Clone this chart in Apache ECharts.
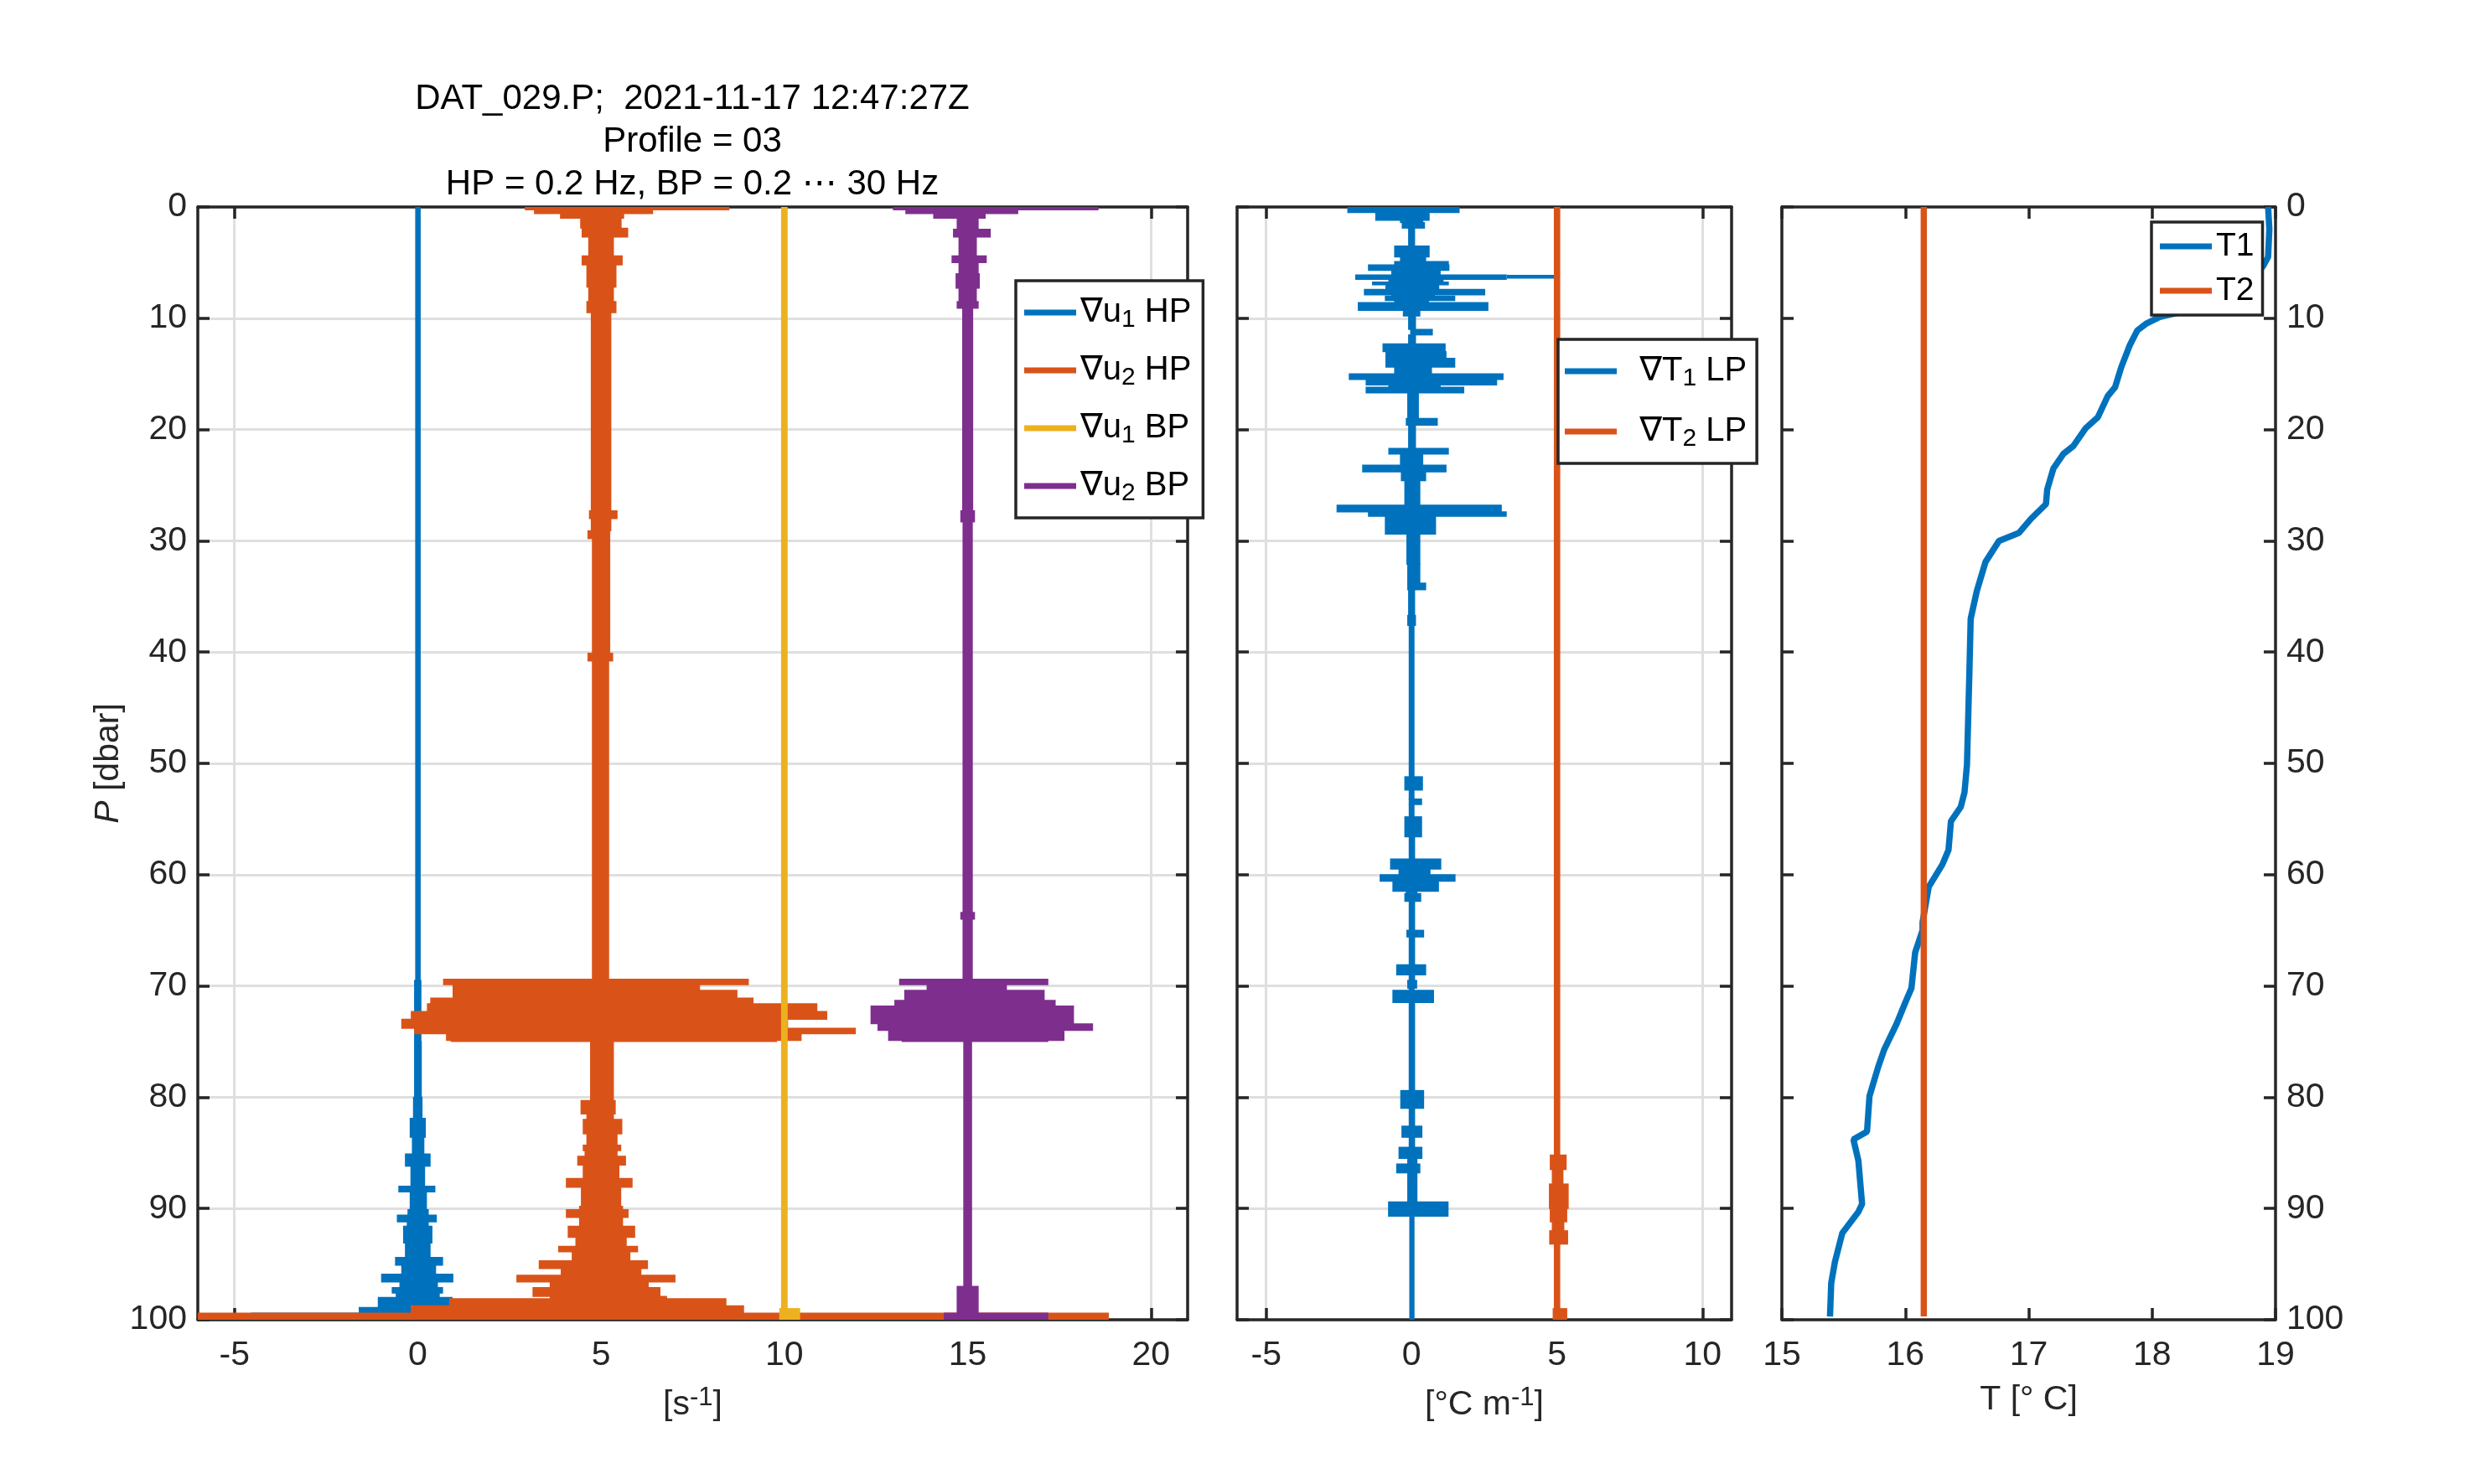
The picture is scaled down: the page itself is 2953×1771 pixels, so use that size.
<!DOCTYPE html>
<html>
<head>
<meta charset="utf-8">
<script src="https://cdn.jsdelivr.net/npm/echarts@6/dist/echarts.min.js"></script>
<style>
html, body { margin: 0; padding: 0; background: #fff; }
#container { width: 2953px; height: 1771px; }
</style>
</head>
<body>
<div id="container"></div>
<script>
var dom = document.getElementById("container");
var myChart = echarts.init(dom);

var FONT = 'Liberation Sans, Arial, DejaVu Sans, sans-serif';
var INK = '#262626';

// matlab default colours
var cBlue = '#0072BD', cOrange = '#D95319', cYellow = '#EDB120', cPurple = '#7E2F8E';

// tick labels
var shearTicks = [-5, 0, 5, 10, 15, 20];
var gradTicks = [-5, 0, 5, 10];
var tempTicks = [15, 16, 17, 18, 19];

var titleLines = ['DAT_029.P;  2021-11-17 12:47:27Z', 'Profile = 03', 'HP = 0.2 Hz, BP = 0.2 \u22EF 30 Hz'];

// each row: [P top, P bottom, x left, x right] 
var du1HP = [
    [0, 69.5, -0.07, 0.08], [69.5, 75, -0.1, 0.1], [75, 80, -0.1, 0.11], [80, 81.9, -0.13, 0.13],
    [81.9, 83.6, -0.22, 0.22], [83.6, 85.1, -0.16, 0.18], [85.1, 86.2, -0.35, 0.35], [86.2, 88, -0.2, 0.2],
    [88, 88.5, -0.53, 0.48], [88.5, 90.1, -0.22, 0.25], [90.1, 90.6, -0.28, 0.3], [90.6, 91.2, -0.57, 0.52],
    [91.2, 91.6, -0.3, 0.3], [91.6, 93.1, -0.4, 0.4], [93.1, 94.4, -0.35, 0.35], [94.4, 95.1, -0.62, 0.69],
    [95.1, 95.9, -0.45, 0.5], [95.9, 96.6, -1.0, 0.97], [96.6, 97.1, -0.5, 0.55], [97.1, 97.6, -0.71, 0.69],
    [97.6, 98.0, -0.6, 0.6], [98.0, 98.9, -1.09, 0.95], [98.9, 99.4, -1.61, 0.95], [99.4, 99.55, -4.55, -1.6]
];
var du2HP = [
    [0, 0.25, 2.92, 8.5], [0.25, 0.6, 3.17, 6.42], [0.6, 1.0, 3.88, 5.63], [1.0, 1.9, 4.43, 5.56],
    [1.9, 2.7, 4.47, 5.74], [2.7, 4.4, 4.65, 5.35], [4.4, 5.2, 4.47, 5.59], [5.2, 7.2, 4.6, 5.42],
    [7.2, 8.5, 4.65, 5.35], [8.5, 9.5, 4.6, 5.42], [9.5, 27.3, 4.72, 5.28], [27.3, 28, 4.67, 5.45],
    [28, 29.1, 4.72, 5.28], [29.1, 29.8, 4.63, 5.25], [29.8, 40.1, 4.75, 5.25], [40.1, 40.8, 4.63, 5.33],
    [40.8, 69.4, 4.75, 5.22],
    [69.4, 69.9, 0.69, 9.03], [69.9, 70.4, 0.95, 7.7], [70.4, 71.1, 0.95, 8.72], [71.1, 71.6, 0.34, 9.16],
    [71.6, 72.3, 0.25, 10.9], [72.3, 73.0, -0.19, 11.17], [73.0, 73.8, -0.45, 10.1], [73.8, 74.3, -0.1, 11.95],
    [74.3, 74.9, 0.77, 10.47], [74.9, 75.0, 0.9, 9.8],
    [75.0, 80.3, 4.7, 5.35], [80.3, 81.5, 4.44, 5.4], [81.5, 82.0, 4.6, 5.35], [82.0, 83.3, 4.5, 5.58],
    [83.3, 84.3, 4.6, 5.45], [84.3, 84.8, 4.5, 5.55], [84.8, 85.3, 4.55, 5.45], [85.3, 86.1, 4.35, 5.68],
    [86.1, 87.3, 4.5, 5.5], [87.3, 88.1, 4.04, 5.86], [88.1, 89.8, 4.45, 5.55], [89.8, 90.1, 4.4, 5.6],
    [90.1, 90.8, 4.04, 5.75], [90.8, 91.6, 4.4, 5.6], [91.6, 92.6, 4.09, 5.93], [92.6, 93.4, 4.3, 5.7],
    [93.4, 93.9, 3.83, 6.01], [93.9, 94.7, 4.2, 5.8], [94.7, 95.4, 3.3, 6.28], [95.4, 96.0, 3.9, 6.1],
    [96.0, 96.6, 2.69, 7.03], [96.6, 97.1, 3.6, 6.3], [97.1, 97.9, 3.13, 6.62], [97.9, 98.1, 3.6, 6.8],
    [98.1, 98.75, 0.86, 8.42], [98.75, 99.4, -0.19, 8.9], [99.4, 100, -6.5, 18.85]
];
var du1BP = [
    [0, 99.0, 9.91, 10.09], [99.0, 100, 9.86, 10.43]
];
var du2BP = [
    [0, 0.25, 12.96, 18.57], [0.25, 0.6, 13.3, 16.38], [0.6, 1.0, 14.06, 15.49], [1.0, 2.0, 14.7, 15.3],
    [2.0, 2.7, 14.6, 15.63], [2.7, 4.4, 14.75, 15.25], [4.4, 5.0, 14.56, 15.52], [5.0, 6.0, 14.75, 15.3],
    [6.0, 7.3, 14.67, 15.33], [7.3, 8.5, 14.75, 15.25], [8.5, 9.1, 14.7, 15.3], [9.1, 27.3, 14.85, 15.15],
    [27.3, 28.3, 14.8, 15.2], [28.3, 63.4, 14.86, 15.14], [63.4, 64.0, 14.8, 15.2], [64.0, 69.4, 14.86, 15.14],
    [69.4, 69.9, 13.13, 17.2], [69.9, 70.4, 13.88, 16.07], [70.4, 71.3, 13.27, 17.1], [71.3, 71.8, 13.0, 17.4],
    [71.8, 73.4, 12.35, 17.9], [73.4, 74.0, 12.54, 18.42], [74.0, 74.9, 12.83, 17.64], [74.9, 75.0, 13.2, 17.2],
    [75.0, 97.0, 14.88, 15.12], [97.0, 99.4, 14.7, 15.3], [99.4, 100, 14.35, 17.2]
];
var dT1LP = [
    [0, 0.5, -2.21, 1.65], [0.5, 1.2, -1.25, 0.62], [1.2, 1.4, -0.4, 0.4], [1.4, 1.9, -0.34, 0.46],
    [1.9, 3.5, -0.12, 0.12], [3.5, 4.5, -0.6, 0.62], [4.5, 4.9, -0.4, 0.5], [4.9, 5.2, -0.6, 1.28],
    [5.2, 5.7, -1.5, 1.3], [5.7, 6.1, -0.7, 1.0], [6.1, 6.5, -1.94, 3.27], [6.15, 6.4, 3.27, 4.95],
    [6.5, 6.75, -0.8, 1.1], [6.75, 7.0, -1.36, 1.28], [7.0, 7.4, -0.9, 0.95], [7.4, 7.9, -1.64, 2.53],
    [7.9, 8.0, -0.7, 0.8], [8.0, 8.4, -0.92, 1.5], [8.4, 8.6, -0.6, 0.6], [8.6, 9.3, -1.85, 2.64],
    [9.3, 9.8, -0.3, 0.3], [9.8, 11.0, -0.12, 0.15], [11.0, 11.5, -0.05, 0.73], [11.5, 12.3, -0.12, 0.15],
    [12.3, 13.0, -1.0, 1.17], [13.0, 13.6, -0.9, 1.2], [13.6, 14.4, -0.9, 1.5], [14.4, 15.0, -0.6, 0.7],
    [15.0, 15.5, -2.16, 3.16], [15.5, 16.0, -1.58, 2.94], [16.0, 16.2, -0.8, 1.0], [16.2, 16.7, -1.58, 1.81],
    [16.7, 19.0, -0.15, 0.25], [19.0, 19.6, -0.2, 0.9], [19.6, 21.7, -0.12, 0.15], [21.7, 22.2, -0.8, 1.28],
    [22.2, 23.2, -0.4, 0.4], [23.2, 23.8, -1.7, 1.2], [23.8, 24.6, -0.37, 0.5], [24.6, 26.8, -0.25, 0.3],
    [26.8, 27.4, -2.58, 3.1], [27.4, 27.8, -1.5, 3.27], [27.8, 29.4, -0.92, 0.84], [29.4, 32.1, -0.18, 0.3],
    [32.1, 33.8, -0.15, 0.3], [33.8, 34.4, -0.15, 0.5], [34.4, 36.7, -0.12, 0.12], [36.7, 37.6, -0.15, 0.15],
    [37.6, 51.2, -0.1, 0.1],
    [51.2, 52.4, -0.25, 0.39], [52.4, 53.2, -0.1, 0.1], [53.2, 53.7, -0.1, 0.36], [53.7, 54.8, -0.1, 0.1],
    [54.8, 56.6, -0.25, 0.36], [56.6, 58.6, -0.1, 0.12], [58.6, 59.5, -0.74, 1.02], [59.5, 60.0, -0.45, 0.65],
    [60.0, 60.6, -1.1, 1.51], [60.6, 61.5, -0.66, 0.94], [61.5, 61.7, -0.2, 0.2], [61.7, 62.4, -0.25, 0.33],
    [62.4, 65.0, -0.1, 0.12], [65.0, 65.6, -0.18, 0.43], [65.6, 68.1, -0.1, 0.12], [68.1, 69.0, -0.53, 0.5],
    [69.0, 69.5, -0.1, 0.12], [69.5, 70.2, -0.15, 0.19], [70.2, 70.4, -0.1, 0.1], [70.4, 71.5, -0.66, 0.77],
    [71.5, 79.4, -0.1, 0.12], [79.4, 81.0, -0.39, 0.43], [81.0, 82.6, -0.1, 0.12], [82.6, 83.6, -0.35, 0.37],
    [83.6, 84.5, -0.1, 0.12], [84.5, 85.5, -0.45, 0.37], [85.5, 86.0, -0.15, 0.2], [86.0, 86.8, -0.53, 0.3],
    [86.8, 89.4, -0.15, 0.2], [89.4, 90.7, -0.81, 1.27], [90.7, 100, -0.08, 0.1]
];
var dT2LP = [
    [0, 85.2, 4.89, 5.11], [85.2, 86.5, 4.75, 5.33], [86.5, 87.8, 4.82, 5.22], [87.8, 90.0, 4.72, 5.4],
    [90.0, 91.2, 4.75, 5.35], [91.2, 92.0, 4.82, 5.25], [92.0, 93.2, 4.73, 5.38], [93.2, 99.0, 4.89, 5.11],
    [99.0, 100, 4.85, 5.35]
];

// temperature profiles: [T, P]
var t1Profile = [
    [18.94, 0], [18.95, 2], [18.94, 4.5], [18.9, 5.3], [18.8, 6.5], [18.55, 8], [18.25, 9.4], [18.06, 9.9],
    [17.95, 10.5], [17.88, 11.1], [17.82, 12.4], [17.75, 14.4], [17.7, 16.2], [17.64, 17.0], [17.56, 18.9],
    [17.46, 19.9], [17.36, 21.5], [17.28, 22.2], [17.2, 23.5], [17.15, 25.4], [17.14, 26.7], [17.02, 28.0],
    [16.92, 29.3], [16.76, 30.0], [16.65, 31.9], [16.58, 34.5], [16.53, 37.0], [16.52, 41.6], [16.5, 50.1],
    [16.48, 52.6], [16.45, 53.9], [16.37, 55.2], [16.35, 57.8], [16.3, 59.1], [16.19, 61.1], [16.14, 64.3],
    [16.14, 65.0], [16.08, 67.0], [16.05, 70.2], [16.0, 71.5], [15.93, 73.4], [15.83, 75.7], [15.78, 77.3],
    [15.71, 79.9], [15.69, 83.1], [15.58, 83.8], [15.62, 85.7], [15.65, 89.6], [15.62, 90.3], [15.49, 92.2],
    [15.43, 94.8], [15.4, 96.7], [15.39, 99.7]
];
var t2Profile = [
    [16.15, 0], [16.15, 50], [16.15, 99.7]
];

function renderSlab(params, api) {
    var a = api.coord([api.value(2), api.value(0)]);
    var b = api.coord([api.value(3), api.value(1)]);
    var cs = params.coordSys;
    var x0 = Math.max(Math.min(a[0], b[0]), cs.x);
    var x1 = Math.min(Math.max(a[0], b[0]), cs.x + cs.width);
    var y0 = Math.max(Math.min(a[1], b[1]) - 0.6, cs.y);
    var y1 = Math.min(Math.max(a[1], b[1]) + 0.6, cs.y + cs.height);
    if (x1 <= x0 || y1 <= y0) {
        return;
    }
    return {
        type: 'rect',
        shape: { x: x0, y: y0, width: x1 - x0, height: y1 - y0 },
        style: { fill: api.visual('color') }
    };
}

function slabSeries(name, data, color, axis) {
    return {
        name: name,
        type: 'custom',
        xAxisIndex: axis,
        yAxisIndex: axis,
        renderItem: renderSlab,
        encode: { x: [2, 3], y: [0, 1] },
        itemStyle: { color: color },
        data: data
    };
}

var labelStyle = { fontSize: 41, color: INK, fontFamily: FONT };
// rich styles for super/subscripts
var richBase = { fontSize: 41, color: INK, fontFamily: FONT, lineHeight: 48, verticalAlign: 'middle' };
var richSup = { fontSize: 31, color: INK, fontFamily: FONT, lineHeight: 10, verticalAlign: 'top' };
var nameStyle = { fontSize: 41, color: INK, fontFamily: FONT, rich: { n: richBase, sup: richSup } };

function xAxes(grid, min, max, ticks, name, gap, split) {
    return [{
        type: 'value', gridIndex: grid, position: 'bottom', min: min, max: max,
        axisLine: { show: true, onZero: false, lineStyle: { color: INK, width: 3.5 } },
        axisTick: { show: true, inside: true, length: 14, customValues: ticks, lineStyle: { color: INK, width: 3.5 } },
        axisLabel: Object.assign({ show: true, customValues: ticks, margin: 22 }, labelStyle),
        splitLine: { show: split, lineStyle: { color: '#dfdfdf', width: 3 } },
        name: name, nameLocation: 'middle', nameGap: gap, nameTextStyle: nameStyle
    }, {
        type: 'value', gridIndex: grid, position: 'top', min: min, max: max,
        axisLine: { show: true, onZero: false, lineStyle: { color: INK, width: 3.5 } },
        axisTick: { show: true, inside: true, length: 14, customValues: ticks, lineStyle: { color: INK, width: 3.5 } },
        axisLabel: { show: false },
        splitLine: { show: false }
    }];
}

function yAxis(grid, pos, labels, split) {
    return {
        type: 'value', gridIndex: grid, position: pos, inverse: true, min: 0, max: 100, interval: 10,
        axisLine: { show: true, onZero: false, lineStyle: { color: INK, width: 3.5 } },
        axisTick: { show: true, inside: true, length: 14, lineStyle: { color: INK, width: 3.5 } },
        axisLabel: Object.assign({ show: labels, margin: 13 }, labelStyle),
        splitLine: { show: split, lineStyle: { color: '#dfdfdf', width: 3 } }
    };
}

var yLeft = yAxis(0, 'left', true, true);
yLeft.name = '{i|P} [dbar]';
yLeft.nameLocation = 'middle';
yLeft.nameGap = 86;
yLeft.nameTextStyle = { fontSize: 41, color: INK, fontFamily: FONT,
                        rich: { i: { fontStyle: 'italic', fontSize: 41, fontFamily: FONT, color: INK } } };

// legend labels: turn the unicode subscript digit into a lowered rich token
function subRich(n) {
    var m = n.match(/^(.*?)([\u2081\u2082])(.*)$/);
    if (!m) {
        return '{n|' + n + '}';
    }
    return '{n|' + m[1] + '}{s|' + (m[2] === '\u2081' ? '1' : '2') + '}{n|' + m[3] + '}';
}
var legendRich = {
    n: { fontSize: 40, color: '#000', fontFamily: FONT, lineHeight: 48, verticalAlign: 'middle' },
    s: { fontSize: 30, color: '#000', fontFamily: FONT, lineHeight: 6, verticalAlign: 'bottom' }
};
var legendText = { fontSize: 40, color: '#000', fontFamily: FONT, lineHeight: 48, rich: legendRich };
var legendBox = { backgroundColor: '#fff', borderColor: INK, borderWidth: 3.5, borderRadius: 0,
                  orient: 'vertical', icon: 'rect', itemWidth: 62, itemHeight: 7, selectedMode: false };

option = {
    animation: false,
    backgroundColor: '#fff',
    graphic: titleLines.map(function (t, i) {
        return {
            type: 'text', x: 826, y: 118 + i * 51,
            style: { text: t, fill: '#000', font: '42px ' + FONT, textAlign: 'center', textVerticalAlign: 'middle' }
        };
    }),
    grid: [
        { left: 236, top: 247, width: 1181, height: 1328 },
        { left: 1476, top: 247, width: 590, height: 1328 },
        { left: 2126, top: 247, width: 589, height: 1328 }
    ],
    xAxis: [].concat(
        xAxes(0, -6, 21, shearTicks, '{n|[s}{sup|-1}{n|]}', 78, true),
        xAxes(1, -6, 11, gradTicks, '{n|[\u00B0C m}{sup|-1}{n|]}', 78, true),
        xAxes(2, 15, 19, tempTicks, '{n|T [\u00B0 C]}', 72, false)
    ),
    yAxis: [
        yLeft, yAxis(0, 'right', false, false),
        yAxis(1, 'left', false, true), yAxis(1, 'right', false, false),
        yAxis(2, 'left', false, false), yAxis(2, 'right', true, false)
    ],
    legend: [
        Object.assign({ left: 1212, top: 335, padding: [14, 14, 14, 10], itemGap: 21, textStyle: legendText,
                        formatter: subRich,
                        data: ['\u2207u\u2081 HP', '\u2207u\u2082 HP', '\u2207u\u2081 BP', '\u2207u\u2082 BP'] }, legendBox),
        Object.assign({ left: 1859, top: 405, padding: [14, 12, 14, 8], itemGap: 24, textStyle: legendText,
                        formatter: function (n) { return '{n|  }' + subRich(n); },
                        data: ['\u2207T\u2081 LP', '\u2207T\u2082 LP'] }, legendBox),
        Object.assign({ left: 2567, top: 265, padding: [9, 10, 9, 10], itemGap: 13,
                        textStyle: { fontSize: 39, color: '#000', fontFamily: FONT, lineHeight: 40 },
                        data: ['T1', 'T2'] }, legendBox)
    ],
    series: [
        slabSeries('\u2207u\u2081 HP', du1HP, cBlue, 0),
        slabSeries('\u2207u\u2082 HP', du2HP, cOrange, 0),
        slabSeries('\u2207u\u2081 BP', du1BP, cYellow, 0),
        slabSeries('\u2207u\u2082 BP', du2BP, cPurple, 0),
        slabSeries('\u2207T\u2081 LP', dT1LP, cBlue, 2),
        slabSeries('\u2207T\u2082 LP', dT2LP, cOrange, 2),
        {
            name: 'T1', type: 'line', xAxisIndex: 4, yAxisIndex: 4, data: t1Profile,
            showSymbol: false, symbol: 'none', lineStyle: { color: cBlue, width: 7.5 }, itemStyle: { color: cBlue }
        },
        {
            name: 'T2', type: 'line', xAxisIndex: 4, yAxisIndex: 4, data: t2Profile,
            showSymbol: false, symbol: 'none', lineStyle: { color: cOrange, width: 7.5 }, itemStyle: { color: cOrange }
        }
    ]
};
if (option && typeof option === "object") {
    myChart.setOption(option, true);
}
</script>
</body>
</html>
